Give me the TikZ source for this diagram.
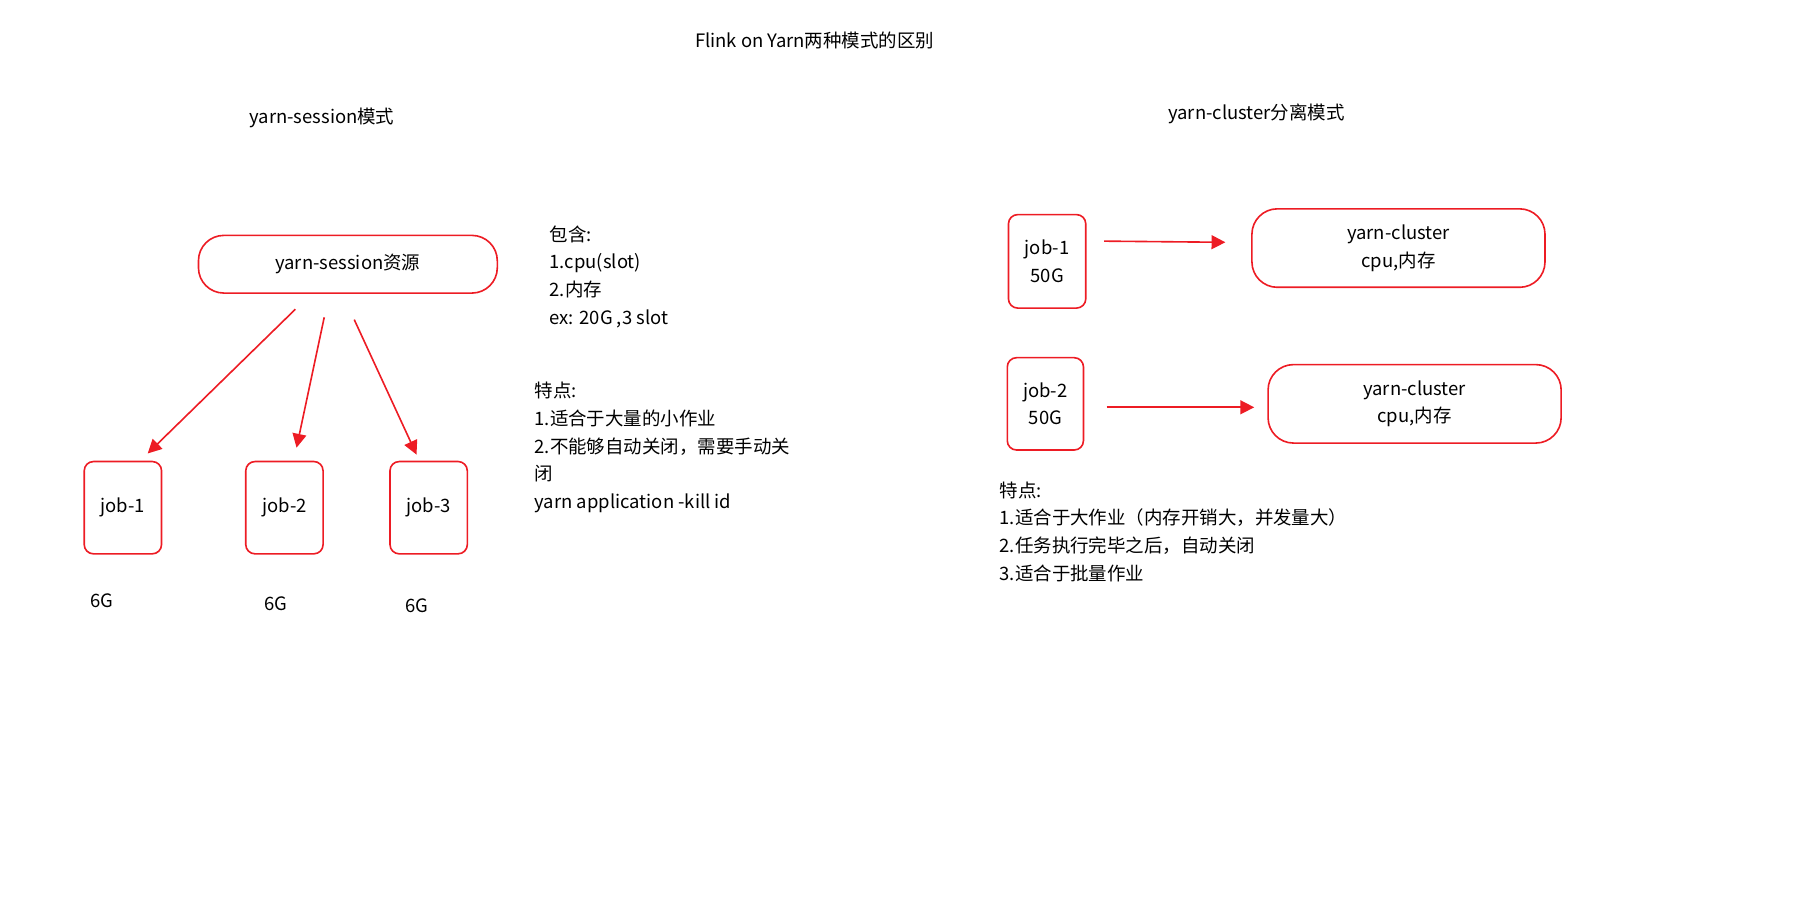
\documentclass[tikz,border=0pt]{standalone}
\usepackage{fontspec}
\setmainfont{Noto Sans CJK SC}
\usetikzlibrary{arrows.meta}
\definecolor{boxred}{RGB}{237,28,36}

\begin{document}
\begin{tikzpicture}[x=0.5pt,y=-0.5pt,font=\fontsize{8}{12}\selectfont,
        roundbox/.style={draw=boxred, line width=0.7pt, rounded corners=11pt, inner sep=0pt},
        jobbox/.style={draw=boxred, line width=0.7pt, rounded corners=4pt, inner sep=0pt, align=center},
        redarrow/.style={draw=boxred, line width=0.7pt, -{Triangle[length=6pt,width=6pt]}},
        notes/.style={anchor=north west, align=left, inner sep=0pt}]
        \useasboundingbox (0,0) rectangle (1560,780);
        % Titles
        \node (title) at (706,35) {Flink on Yarn两种模式的区别};
        \node (sessiontitle) at (279,102) {yarn-session模式};
        \node (clustertitle) at (1089,99) {yarn-cluster分离模式};
        % yarn-session part
        \node[roundbox, minimum width=129.5pt, minimum height=25pt] (session) at (301.5,229) {yarn-session资源};
        \foreach \n/\x in {1/106.5, 2/246.5, 3/371.5} {
          \node[jobbox, minimum width=33.5pt, minimum height=40pt] (job\n) at (\x,440) {job-\n};
        }
        \node (mem1) at (88,521) {6G};
        \node (mem2) at (239,523) {6G};
        \node (mem3) at (361,525) {6G};
        \coordinate (s1) at (256,268);
        \coordinate (s2) at (281,275);
        \coordinate (s3) at (307,277);
        \coordinate (e1) at (128,393);
        \coordinate (e2) at (257,388);
        \coordinate (e3) at (361,394);
        \draw[redarrow] (s1) -- (e1);
        \draw[redarrow] (s2) -- (e2);
        \draw[redarrow] (s3) -- (e3);
        \node[notes] (contains) at (476,195) {包含:\\1.cpu(slot)\\2.内存\\ex: 20G ,3 slot};
        \node[notes] (sessionfeat) at (463,331) {特点:\\1.适合于大量的小作业\\2.不能够自动关闭，需要手动关\\闭\\yarn application -kill id};
        % yarn-cluster part
        \node[jobbox, minimum width=33.5pt, minimum height=40.5pt] (cjob1) at (907.5,226.5) {job-1\\50G};
        \node[jobbox, minimum width=33pt, minimum height=40pt] (cjob2) at (906,350) {job-2\\50G};
        \node[roundbox, align=center, minimum width=127pt, minimum height=34pt] (cluster1) at (1212,215) {yarn-cluster\\cpu,内存};
        \node[roundbox, align=center, minimum width=127pt, minimum height=34pt] (cluster2) at (1226,350) {yarn-cluster\\cpu,内存};
        \coordinate (c1) at (957,209);
        \coordinate (c2) at (959,353);
        \draw[redarrow] (c1) -- (1062,210);
        \draw[redarrow] (c2) -- (1087,353);
        \node[notes] (clusterfeat) at (866,417) {特点:\\1.适合于大作业（内存开销大，并发量大）\\2.任务执行完毕之后，自动关闭\\3.适合于批量作业};
\end{tikzpicture}
\end{document}
